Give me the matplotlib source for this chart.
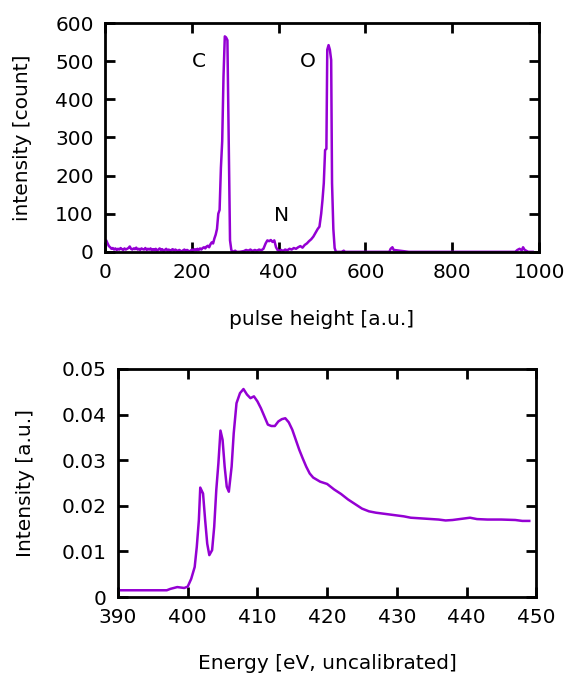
import numpy as np
import matplotlib
matplotlib.use("Agg")
import matplotlib.pyplot as plt

# pulse height spectrum (top)
ph_x = [0, 3, 6, 9, 12, 15, 18, 21, 24, 27, 30, 33, 36, 39, 42, 45, 48, 51, 54, 57,
        60, 63, 66, 69, 72, 75, 78, 81, 84, 87, 90, 93, 96, 99, 102, 105, 108, 111, 114, 117,
        120, 123, 126, 129, 132, 135, 138, 141, 144, 147, 150, 153, 156, 159, 162, 165, 168, 171, 174, 177,
        180, 183, 186, 189, 192, 195, 198, 201, 204, 207, 210, 213, 216, 219, 222, 225, 228, 231, 234, 237,
        240, 243, 246, 249, 252, 255, 258, 261, 264, 267, 270, 273, 276, 279, 282, 285, 288, 291, 294, 300,
        303, 310, 320, 325, 330, 335, 340, 345, 350, 355, 360, 365, 370, 374, 378, 382, 386, 390, 394, 398,
        402, 406, 410, 415, 420, 425, 430, 435, 440, 445, 450, 455, 460, 465, 470, 475, 480, 485, 490, 494,
        498, 501, 504, 507, 510, 512, 515, 518, 521, 523, 526, 529, 532, 536, 545, 550, 553, 600, 650, 655,
        658, 662, 665, 700, 800, 900, 945, 950, 955, 960, 963, 966, 970, 975, 980, 985]
ph_y = [28, 30, 22, 15, 12, 8, 10, 6, 9, 5, 8, 6, 10, 7, 5, 9, 6, 8, 10, 14,
        8, 6, 9, 7, 11, 6, 8, 5, 9, 7, 6, 10, 5, 8, 6, 9, 4, 7, 5, 8,
        3, 6, 9, 4, 7, 2, 5, 8, 3, 6, 2, 5, 7, 3, 6, 4, 1, 5, 3, 0,
        4, 6, 2, 5, 3, 0, 4, 6, 3, 7, 4, 8, 5, 9, 6, 10, 12, 9, 14, 16,
        12, 20, 25, 22, 35, 45, 60, 100, 110, 220, 290, 460, 565, 562, 555, 290, 30, 5, 0, 3,
        0, 0, 2, 5, 3, 6, 2, 5, 3, 6, 4, 8, 22, 30, 28, 31, 26, 30, 12, 4,
        3, 5, 2, 6, 4, 8, 6, 10, 8, 12, 15, 11, 18, 22, 28, 33, 40, 50, 60, 66,
        100, 136, 180, 267, 270, 530, 542, 530, 503, 180, 60, 10, 0, 0, 0, 3,
        0, 0, 0, 0, 8, 12, 5, 0, 0, 0, 0, 5, 8, 4, 12, 6, 3, 0, 0, 0][:len(ph_x)]

# absorption spectrum (bottom)
en_x = [390, 391, 393, 395, 397, 397.5, 398.5, 399.5, 400, 400.5, 401, 401.3, 401.6, 401.8, 402.2,
        402.5, 402.8, 403.1, 403.5, 403.8, 404.1, 404.4, 404.7, 405.0, 405.3, 405.6, 405.9, 406.3, 406.6,
        407.0, 407.5, 408.0, 408.5, 409.0, 409.5, 410, 410.5, 411, 411.5, 412, 412.5, 413, 413.5,
        414, 414.5, 415, 415.5, 416, 416.5, 417, 417.5, 418, 419, 420, 421, 422, 423, 424, 425,
        426, 427, 428, 429, 430, 431, 432, 434, 436, 437, 438, 439, 440.5, 441.5, 443, 445, 447,
        448, 449]
en_y = [0.0015, 0.0015, 0.0015, 0.0015, 0.0015, 0.0018, 0.0022, 0.002, 0.0023, 0.004, 0.0066, 0.011,
        0.0169, 0.0240, 0.0227, 0.0169, 0.0117, 0.0092, 0.0103, 0.0154, 0.0235, 0.0293, 0.0365, 0.0345,
        0.0286, 0.0242, 0.0231, 0.0286, 0.0359, 0.0425, 0.0447, 0.0456, 0.0444, 0.0436, 0.044, 0.0429,
        0.0414, 0.0396, 0.0378, 0.0375, 0.0375, 0.0385, 0.039, 0.0392, 0.0383, 0.0367, 0.0345, 0.0323,
        0.0304, 0.0286, 0.0271, 0.0262, 0.0253, 0.0248, 0.0236, 0.0226, 0.0214, 0.0204, 0.0194, 0.0188,
        0.0185, 0.0183, 0.0181, 0.0179, 0.0177, 0.0174, 0.0172, 0.017, 0.0168, 0.0169, 0.0171, 0.0174,
        0.0171, 0.017, 0.017, 0.0169, 0.0167, 0.0167]

peak_labels = ["C", "N", "O"]
peak_pos = [(216, 498), (407, 94), (467, 498)]

purple = "#9400D3"
plt.rcParams["font.family"] = "DejaVu Sans"
plt.rcParams["font.size"] = 14.5

fig = plt.figure(figsize=(5.69, 6.77), dpi=100)
ax1 = fig.add_axes([0.1845, 0.628, 0.763, 0.338])
ax2 = fig.add_axes([0.2074, 0.118, 0.735, 0.337])


def style(ax):
    for s in ax.spines.values():
        s.set_linewidth(2)
    ax.tick_params(direction="in", length=7, width=2, top=True, right=True,
                   labelsize=14.5, pad=8)


ax1.plot(ph_x, ph_y, color=purple, lw=1.8)
ax1.set_xlim(0, 1000)
ax1.set_ylim(0, 600)
ax1.set_xticks([0, 200, 400, 600, 800, 1000])
ax1.set_yticks([0, 100, 200, 300, 400, 500, 600])
ax1.set_xlabel("pulse height [a.u.]")
ax1.set_ylabel("intensity [count]")
ax1.xaxis.set_label_coords(0.5, -0.255)
ax1.yaxis.set_label_coords(-0.168, 0.5)
for lab, (px, py) in zip(peak_labels, peak_pos):
    ax1.text(px, py, lab, ha="center", va="center", fontsize=14.5)
style(ax1)

ax2.plot(en_x, en_y, color=purple, lw=1.8)
ax2.set_xlim(390, 450)
ax2.set_ylim(0, 0.05)
ax2.set_xticks([390, 400, 410, 420, 430, 440, 450])
ax2.set_yticks([0, 0.01, 0.02, 0.03, 0.04, 0.05])
ax2.set_yticklabels(["0", "0.01", "0.02", "0.03", "0.04", "0.05"])
ax2.set_xlabel("Energy [eV, uncalibrated]")
ax2.set_ylabel("Intensity [a.u.]")
ax2.xaxis.set_label_coords(0.5, -0.25)
ax2.yaxis.set_label_coords(-0.198, 0.5)
style(ax2)

fig.savefig("out.png", dpi=100)
